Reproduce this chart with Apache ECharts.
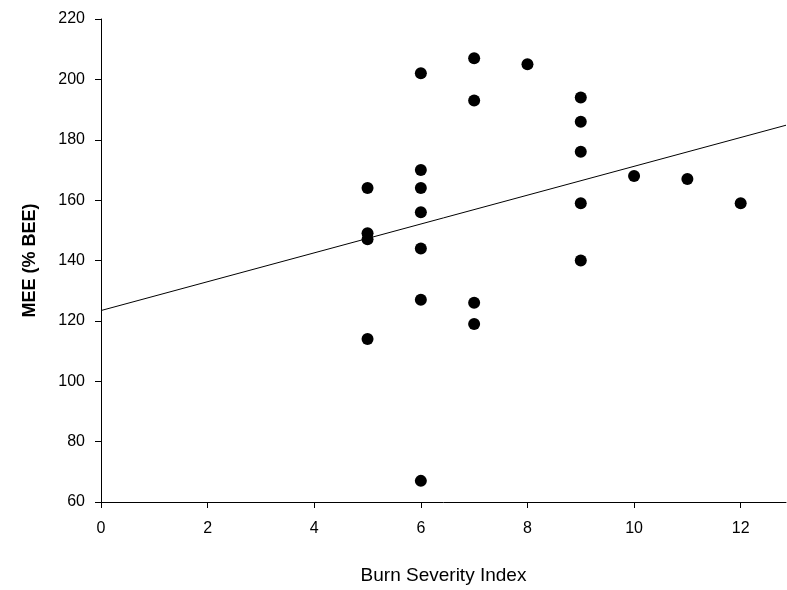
<!DOCTYPE html>
<html><head><meta charset="utf-8">
<script src="https://cdn.jsdelivr.net/npm/echarts@6/dist/echarts.min.js"></script>
<style>html,body{margin:0;padding:0;background:#fff}#c{width:787px;height:590px}</style>
</head><body><div id="c"></div>
<script>
// Burn Severity Index (x) and MEE (% BEE) (y)
const severity = [5,5,5,5, 6,6,6,6,6,6,6, 7,7,7,7, 8, 9,9,9,9,9, 10, 11, 12];
const mee      = [164,149,147,114, 202,170,164,156,144,127,67, 207,193,126,119, 205, 194,186,176,159,140, 168, 167, 159];
const xTicks = [0,2,4,6,8,10,12];
const yTicks = [60,80,100,120,140,160,180,200,220];
const xMax = 12.85;

const pts = severity.map((x,i)=>[x, mee[i]]);
// least squares regression line
const n = pts.length;
const mx = severity.reduce((a,b)=>a+b,0)/n;
const my = mee.reduce((a,b)=>a+b,0)/n;
let sxy=0, sxx=0;
for (let i=0;i<n;i++){ sxy += (severity[i]-mx)*(mee[i]-my); sxx += (severity[i]-mx)**2; }
const slope = sxy/sxx, icpt = my - slope*mx;
const fit = [[0, icpt],[xMax, icpt + slope*xMax]];

const font = '"Liberation Sans", Arial, sans-serif';
const chart = echarts.init(document.getElementById('c'), null, {renderer:'canvas'});
chart.setOption({
  animation:false,
  grid:{left:101, right:1, top:19, bottom:84, containLabel:false},
  xAxis:{type:'value', min:0, max:xMax, interval:2,
    name:'Burn Severity Index', nameLocation:'middle', nameGap:64,
    nameTextStyle:{fontFamily:font, fontSize:19, color:'#000'},
    axisLine:{lineStyle:{color:'#000', width:1}},
    axisTick:{show:true, inside:false, length:6, lineStyle:{color:'#000'},
      interval:(i,v)=>true},
    axisLabel:{fontFamily:font, fontSize:16, color:'#000', margin:19,
      formatter:v=> xTicks.includes(v) ? String(v) : '', showMaxLabel:false},
    splitLine:{show:false}},
  yAxis:{type:'value', min:60, max:220, interval:20,
    name:'MEE (% BEE)', nameLocation:'middle', nameGap:62,
    nameTextStyle:{fontFamily:font, fontSize:18, fontWeight:'bold', color:'#000'},
    axisLine:{show:true, lineStyle:{color:'#000', width:1}},
    axisTick:{show:true, inside:false, length:6, lineStyle:{color:'#000'}},
    axisLabel:{fontFamily:font, fontSize:16, color:'#000', margin:16,
      formatter:v=> yTicks.includes(v) ? String(v) : ''},
    splitLine:{show:false}},
  series:[
    {type:'line', data:fit, symbol:'none', lineStyle:{color:'#000', width:1}, z:1},
    {type:'scatter', data:pts, symbol:'circle', symbolSize:12, itemStyle:{color:'#000', opacity:1}, z:2}
  ]
});
</script></body></html>
